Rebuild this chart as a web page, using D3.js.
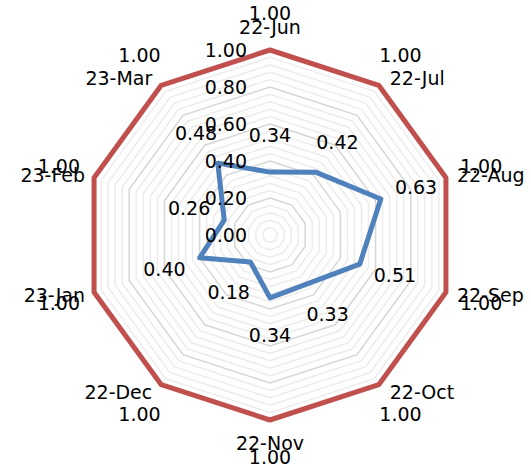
<!DOCTYPE html>
<html>
<head>
<meta charset="utf-8">
<script src="https://cdn.jsdelivr.net/npm/d3@7"></script>
<style>
  html, body { margin: 0; padding: 0; background: #fff; }
  text { font-family: "DejaVu Sans", sans-serif; font-size: 19px; fill: #000; }
</style>
</head>
<body>
<div id="container"></div>
<script>
var categories = ['22-Jun', '22-Jul', '22-Aug', '22-Sep', '22-Oct', '22-Nov', '22-Dec', '23-Jan', '23-Feb', '23-Mar'];
var actual = [0.34, 0.42, 0.63, 0.51, 0.33, 0.34, 0.18, 0.40, 0.26, 0.48];
var target = [1.00, 1.00, 1.00, 1.00, 1.00, 1.00, 1.00, 1.00, 1.00, 1.00];
var majorTicks = [0, 0.2, 0.4, 0.6, 0.8, 1.0];
var minorTicks = d3.range(0.04, 1.0001, 0.04);

var W = 531, H = 464;
var cx = 270, cy = 235, R = 185;

var svg = d3.select('#container')
  .append('svg')
  .attr('width', W)
  .attr('height', H);

var r = d3.scaleLinear().domain([0, 1]).range([0, R]);
var angle = d3.scaleLinear().domain([0, categories.length]).range([0, 2 * Math.PI]);

var g = svg.append('g').attr('transform', 'translate(' + cx + ',' + cy + ')');

function pt(i, v) {
  var a = angle(i);
  return [r(v) * Math.sin(a), -r(v) * Math.cos(a)];
}

var ringLine = d3.line().curve(d3.curveLinearClosed);
function ringPath(v) {
  return ringLine(categories.map(function(c, i) { return pt(i, v); }));
}

// minor rings then major rings
g.selectAll('path.minor').data(minorTicks.filter(function(t) {
    return Math.abs(t * 5 - Math.round(t * 5)) > 1e-6;
  }))
  .enter().append('path')
  .attr('d', ringPath)
  .attr('fill', 'none')
  .attr('stroke', '#ececec')
  .attr('stroke-width', 1.5);

g.selectAll('path.major').data(majorTicks.slice(1))
  .enter().append('path')
  .attr('d', ringPath)
  .attr('fill', 'none')
  .attr('stroke', '#d6d6d6')
  .attr('stroke-width', 1.5);

// series
var series = [
  { values: actual, color: '#4F81BD' },
  { values: target, color: '#C0504D' }
];
series.forEach(function(s) {
  g.append('path')
    .attr('d', ringLine(s.values.map(function(v, i) { return pt(i, v); })))
    .attr('fill', 'none')
    .attr('stroke', s.color)
    .attr('stroke-width', 5)
    .attr('stroke-linejoin', 'round');
});

// axis tick labels
g.selectAll('text.tick').data(majorTicks)
  .enter().append('text')
  .attr('x', -23)
  .attr('y', function(d) { return -r(d); })
  .attr('dy', '0.35em')
  .attr('text-anchor', 'end')
  .text(d3.format('.2f'));

// category labels
g.selectAll('text.cat').data(categories)
  .enter().append('text')
  .each(function(d, i) {
    var a = angle(i), s = Math.sin(a), c = Math.cos(a);
    var p = pt(i, 1);
    var t = d3.select(this);
    if (Math.abs(s) < 0.1) {
      t.attr('x', p[0]).attr('y', p[1] - c * 23).attr('text-anchor', 'middle');
    } else {
      t.attr('x', p[0] + (s > 0 ? 11 : -9))
        .attr('y', p[1] - c * 9)
        .attr('text-anchor', s > 0 ? 'start' : 'end');
    }
    t.attr('dy', '0.35em');
  })
  .text(function(d) { return d; });

// data labels
series.forEach(function(s) {
  g.selectAll(null).data(s.values)
    .enter().append('text')
    .attr('x', function(v, i) { return (r(v) + 37) * Math.sin(angle(i)); })
    .attr('y', function(v, i) { return -(r(v) + 37) * Math.cos(angle(i)); })
    .attr('dy', '0.35em')
    .attr('text-anchor', 'middle')
    .text(d3.format('.2f'));
});
</script>
</body>
</html>
